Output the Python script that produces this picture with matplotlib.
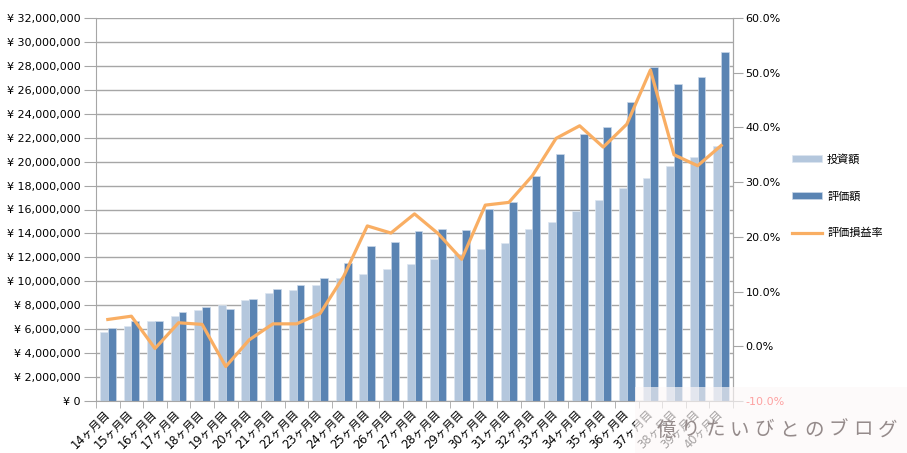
import numpy as np
import matplotlib
matplotlib.use("Agg")
import matplotlib.pyplot as plt
from matplotlib.ticker import FuncFormatter
from matplotlib.patches import Rectangle

plt.rcParams['font.family'] = ['DejaVu Sans', 'Noto Sans CJK JP']

months = [f"{m}ヶ月目" for m in range(14, 41)]
# 投資額 (yen)
invest = [5.79e6, 6.29e6, 6.68e6, 7.07e6, 7.60e6, 8.00e6, 8.41e6, 9.00e6, 9.27e6,
          9.72e6, 10.25e6, 10.58e6, 11.03e6, 11.45e6, 11.89e6, 12.30e6, 12.73e6,
          13.17e6, 14.37e6, 14.98e6, 15.90e6, 16.79e6, 17.79e6, 18.60e6, 19.66e6,
          20.38e6, 21.30e6]
# 評価額 (yen)
value = [6.07e6, 6.68e6, 6.66e6, 7.41e6, 7.88e6, 7.69e6, 8.52e6, 9.36e6, 9.69e6,
         10.30e6, 11.56e6, 12.92e6, 13.28e6, 14.23e6, 14.34e6, 14.29e6, 16.04e6,
         16.65e6, 18.82e6, 20.64e6, 22.28e6, 22.89e6, 25.00e6, 27.93e6, 26.51e6,
         27.09e6, 29.13e6]
# 評価損益率
rate = [0.049, 0.055, -0.004, 0.043, 0.040, -0.037, 0.012, 0.041, 0.041, 0.060,
        0.128, 0.220, 0.207, 0.242, 0.206, 0.159, 0.258, 0.263, 0.312, 0.380,
        0.403, 0.364, 0.406, 0.505, 0.350, 0.330, 0.367]

light = '#B4C7DD'
dark = '#5A84B3'
orange = '#F9AE63'
grey = '#A6A6A6'

fig = plt.figure(figsize=(9.07, 4.53), dpi=100)
ax = fig.add_axes([96/907, 1-401/453, (733-96)/907, (401-18)/453])

x = np.arange(len(months))
w = 1/3
ax.bar(x - w/2, invest, w, color=light, edgecolor='#DCE6F1', linewidth=0.5, label='投資額', zorder=2)
ax.bar(x + w/2, value, w, color=dark, edgecolor='#C9D7E8', linewidth=0.5, label='評価額', zorder=2)

ax.set_xlim(-0.5, len(months) - 0.5)
ax.set_ylim(0, 32e6)
ax.set_yticks(np.arange(0, 32e6 + 1, 2e6))
ax.yaxis.set_major_formatter(FuncFormatter(lambda v, p: f"¥ {int(v):,}"))
ax.grid(axis='y', color=grey, linewidth=1, zorder=0)
ax.set_axisbelow(True)

ax.set_xticks(x)
ax.set_xticklabels(months, rotation=45, ha='right', va='center', rotation_mode='anchor')
ax.set_xticks(np.arange(-0.5, len(months), 1), minor=True)
ax.tick_params(axis='x', which='major', length=0, pad=8, labelsize=8.3)
ax.tick_params(axis='x', which='minor', length=5, color=grey)
ax.tick_params(axis='y', length=9, color=grey, labelsize=8, pad=2)

ax.spines['top'].set_visible(False)
for s in ['left', 'bottom', 'right']:
    ax.spines[s].set_color(grey)

ax2 = ax.twinx()
ax2.plot(x, rate, color=orange, linewidth=2.3, label='評価損益率', zorder=3)
ax2.set_ylim(-0.10, 0.60)
ax2.set_yticks(np.arange(-0.10, 0.601, 0.10))
ax2.yaxis.set_major_formatter(FuncFormatter(lambda v, p: f"{v*100:.1f}%"))
ax2.tick_params(axis='y', length=7, color=grey, labelsize=8, pad=2)
for s in ['top', 'left', 'bottom']:
    ax2.spines[s].set_visible(False)
ax2.spines['right'].set_color(grey)
for t in ax2.get_yticklabels():
    if t.get_text().startswith('-'):
        t.set_color('#FF0000')

h1, l1 = ax.get_legend_handles_labels()
h2, l2 = ax2.get_legend_handles_labels()
fig.legend(h1 + h2, l1 + l2, loc='center left', bbox_to_anchor=(786/907, 1-196/453),
           frameon=False, fontsize=8, handlelength=2.7, handleheight=0.6,
           labelspacing=2.4, handletextpad=0.5, borderpad=0)

# blog watermark overlay
fig.patches.append(Rectangle((635/907, 0), 1, 66/453, transform=fig.transFigure,
                             facecolor='#FDF8F8', alpha=0.65, edgecolor='none', zorder=10))
wm = "億りたいびとのブログ"
for i, ch in enumerate(wm):
    fig.text((666 + i*24.6)/907, 1-430/453, ch, fontsize=14, color='#958B8B',
             ha='center', va='center', family=['Noto Sans CJK JP'], zorder=11)

fig.savefig('out.png', dpi=100)
